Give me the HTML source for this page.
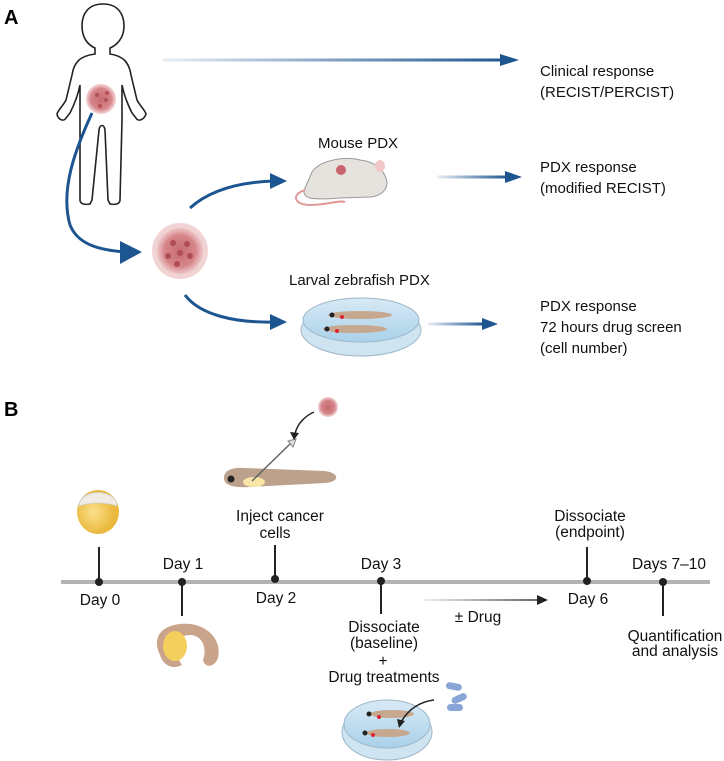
<!DOCTYPE html>
<html><head><meta charset="utf-8"><style>
html,body{margin:0;padding:0;background:#fff;overflow:hidden}
svg{display:block}
.a{font-family:"Liberation Sans",sans-serif;font-size:15px;fill:#111}
.b{font-family:"Liberation Sans",sans-serif;font-size:15.5px;fill:#111}
</style></head><body>
<svg width="724" height="761" viewBox="0 0 724 761" xmlns="http://www.w3.org/2000/svg">
<defs>
<linearGradient id="g1" gradientUnits="userSpaceOnUse" x1="163" y1="0" x2="505" y2="0"><stop offset="0" stop-color="#1d5591" stop-opacity="0.1"/><stop offset="1" stop-color="#1d5591"/></linearGradient>
<linearGradient id="g2" gradientUnits="userSpaceOnUse" x1="437" y1="0" x2="508" y2="0"><stop offset="0" stop-color="#1d5591" stop-opacity="0.1"/><stop offset="1" stop-color="#1d5591"/></linearGradient>
<linearGradient id="g3" gradientUnits="userSpaceOnUse" x1="428" y1="0" x2="484" y2="0"><stop offset="0" stop-color="#1d5591" stop-opacity="0.1"/><stop offset="1" stop-color="#1d5591"/></linearGradient>
<linearGradient id="g4" gradientUnits="userSpaceOnUse" x1="423" y1="0" x2="540" y2="0"><stop offset="0" stop-color="#333" stop-opacity="0.1"/><stop offset="1" stop-color="#333"/></linearGradient>
<radialGradient id="tum"><stop offset="0" stop-color="#c56a70"/><stop offset="0.7" stop-color="#d7868a"/><stop offset="1" stop-color="#e9b8ba" stop-opacity="0.6"/></radialGradient>
<radialGradient id="egg" cx="0.4" cy="0.5"><stop offset="0" stop-color="#fbe08a"/><stop offset="1" stop-color="#e9b83c"/></radialGradient>
<linearGradient id="dish" x1="0" y1="0" x2="0" y2="1"><stop offset="0" stop-color="#d8eaf5"/><stop offset="1" stop-color="#a9d1ea"/></linearGradient>
</defs>
<text x="4" y="24" style="font-family:'Liberation Sans',sans-serif;font-weight:bold;font-size:20px">A</text>
<text x="4" y="416" style="font-family:'Liberation Sans',sans-serif;font-weight:bold;font-size:20px">B</text>

<!-- child -->
<g fill="none" stroke="#222" stroke-width="1.6">
<path d="M103 4 C88 4 82 14 82 26 C82 38 88 45 95 48 L95 54 C80 56 74 62 72 75 L66 100 C63 106 58 110 57 114 C58 120 64 122 66 118 L70 113 C74 105 78 95 80 85 L80 120 L80 200 C80 204 85 205 90 204 L92 200 L99 130 C100 124 104 124 105 130 L108 200 L110 204 C115 205 120 204 120 200 L122 120 L122 85 C124 95 128 105 132 113 L136 118 C138 122 144 120 146 114 C145 110 140 106 137 100 L131 75 C129 62 123 56 110 54 L110 48 C117 45 124 38 124 26 C124 14 118 4 103 4 Z"/>
</g>
<circle cx="101" cy="99" r="15" fill="url(#tum)"/>
<g fill="#b14f57"><circle cx="97" cy="95" r="2"/><circle cx="106" cy="100" r="2"/><circle cx="100" cy="106" r="2"/><circle cx="107" cy="93" r="2"/></g>

<!-- top arrow -->
<path d="M163 60 L505 60" stroke="url(#g1)" stroke-width="3"/>
<polygon points="500,54 519,60 500,66" fill="#1d5591"/>
<text class="a" x="540" y="76">Clinical response</text>
<text class="a" x="540" y="97">(RECIST/PERCIST)</text>

<!-- curve to tumor -->
<path d="M92 113 C75 150 60 190 70 225 C78 245 100 250 125 252" fill="none" stroke="#1d5591" stroke-width="3"/>
<polygon points="120,241 142,252 120,264" fill="#1d5591"/>
<circle cx="180" cy="251" r="28" fill="#ebc0c2" opacity="0.7"/>
<circle cx="180" cy="251" r="23" fill="url(#tum)"/>
<g fill="#b04c55"><circle cx="173" cy="243" r="3"/><circle cx="187" cy="244" r="3"/><circle cx="180" cy="253" r="3"/><circle cx="190" cy="256" r="3"/><circle cx="168" cy="256" r="3"/><circle cx="177" cy="264" r="3"/></g>

<!-- upper branch -->
<path d="M190 208 C210 190 240 182 275 181" fill="none" stroke="#1d5591" stroke-width="3"/>
<polygon points="270,173 287,181 270,189" fill="#1d5591"/>
<text class="a" x="318" y="148">Mouse PDX</text>
<path d="M305 188 C300 200 315 200 340 198 L370 197 C380 196 390 190 386 178 C382 168 375 162 360 160 C345 156 320 160 312 172 Z" fill="#e6e3df" stroke="#999" stroke-width="1"/>
<circle cx="341" cy="170" r="5" fill="#c9636d"/>
<path d="M305 190 C290 195 295 205 310 205 C325 205 340 200 345 202" fill="none" stroke="#e09a9a" stroke-width="2"/>
<ellipse cx="380" cy="166" rx="5" ry="6" fill="#f0c8c8"/>
<path d="M437 177 L508 177" stroke="url(#g2)" stroke-width="3"/>
<polygon points="505,171 522,177 505,183" fill="#1d5591"/>
<text class="a" x="540" y="172">PDX response</text>
<text class="a" x="540" y="193">(modified RECIST)</text>

<!-- lower branch -->
<path d="M185 295 C200 315 235 323 275 322" fill="none" stroke="#1d5591" stroke-width="3"/>
<polygon points="270,314 287,322 270,330" fill="#1d5591"/>
<text class="a" x="289" y="285">Larval zebrafish PDX</text>
<ellipse cx="361" cy="330" rx="60" ry="26" fill="#cfe4f1" stroke="#9cb7c8"/>
<ellipse cx="361" cy="320" rx="58" ry="22" fill="url(#dish)" stroke="#9cb7c8"/>
<g><ellipse cx="360" cy="315" rx="32" ry="4" fill="#c6a88f"/><circle cx="332" cy="315" r="2.5" fill="#222"/><circle cx="342" cy="317" r="2" fill="#d23"/>
<ellipse cx="355" cy="329" rx="32" ry="4" fill="#c6a88f"/><circle cx="327" cy="329" r="2.5" fill="#222"/><circle cx="337" cy="331" r="2" fill="#d23"/></g>
<path d="M428 324 L484 324" stroke="url(#g3)" stroke-width="3"/>
<polygon points="482,318 498,324 482,330" fill="#1d5591"/>
<text class="a" x="540" y="311">PDX response</text>
<text class="a" x="540" y="332">72 hours drug screen</text>
<text class="a" x="540" y="353">(cell number)</text>

<!-- timeline B -->
<line x1="61" y1="582" x2="710" y2="582" stroke="#b3b3b3" stroke-width="4"/>
<g stroke="#222" stroke-width="2">
<line x1="99" y1="547" x2="99" y2="582"/>
<line x1="182" y1="582" x2="182" y2="616"/>
<line x1="275" y1="545" x2="275" y2="579"/>
<line x1="381" y1="581" x2="381" y2="614"/>
<line x1="587" y1="547" x2="587" y2="581"/>
<line x1="663" y1="582" x2="663" y2="616"/>
</g>
<g fill="#222"><circle cx="99" cy="582" r="4"/><circle cx="182" cy="582" r="4"/><circle cx="275" cy="579" r="4"/><circle cx="381" cy="581" r="4"/><circle cx="587" cy="581" r="4"/><circle cx="663" cy="582" r="4"/></g>
<g text-anchor="middle">
<text x="100" y="605" class="b">Day 0</text>
<text x="183" y="569" class="b">Day 1</text>
<text x="276" y="603" class="b">Day 2</text>
<text x="280" y="521" class="b">Inject cancer</text>
<text x="275" y="538" class="b">cells</text>
<text x="381" y="569" class="b">Day 3</text>
<text x="384" y="632" class="b">Dissociate</text>
<text x="384" y="648" class="b">(baseline)</text>
<text x="383" y="666" class="b">+</text>
<text x="384" y="682" class="b">Drug treatments</text>
<text x="478" y="622" class="b">± Drug</text>
<text x="588" y="604" class="b">Day 6</text>
<text x="590" y="521" class="b">Dissociate</text>
<text x="590" y="537" class="b">(endpoint)</text>
<text x="669" y="569" class="b">Days 7–10</text>
<text x="675" y="641" class="b">Quantification</text>
<text x="675" y="656" class="b">and analysis</text>
</g>
<path d="M423 600 L540 600" stroke="url(#g4)" stroke-width="1.5"/>
<polygon points="537,595 548,600 537,605" fill="#222"/>

<!-- egg -->
<ellipse cx="98" cy="512" rx="21" ry="22" fill="url(#egg)"/>
<path d="M79 506 C80 488 116 488 117 506 C105 502 91 502 79 506Z" fill="#f0ebe5" stroke="#ccc" stroke-width="0.8"/>
<!-- embryo -->
<path d="M160 655 C150 635 165 622 190 624 C208 626 222 640 218 658 C214 668 205 668 203 660 C208 645 200 635 190 635 C175 635 172 650 182 665 C172 670 163 665 160 655Z" fill="#c9a48a"/>
<ellipse cx="175" cy="646" rx="12" ry="15" fill="#f5cf5e"/>
<!-- larva injection -->
<path d="M224 478 C224 470 232 467 245 468 L325 471 C340 473 340 482 325 483 L250 487 C232 488 224 485 224 478Z" fill="#bca28d"/>
<circle cx="231" cy="479" r="3.5" fill="#222"/>
<ellipse cx="254" cy="482" rx="11" ry="5" fill="#f8e6a6"/>
<line x1="252" y1="481" x2="291" y2="443" stroke="#666" stroke-width="1.5"/>
<polygon points="288,441 296,439 293,447" fill="#ddd" stroke="#888"/>
<path d="M314 412 C305 416 297 424 295 434" fill="none" stroke="#222" stroke-width="1.5"/>
<polygon points="290,432 294,440 299,433" fill="#222"/>
<circle cx="328" cy="407" r="10" fill="url(#tum)"/>
<!-- dish B -->
<ellipse cx="387" cy="732" rx="45" ry="28" fill="#cfe4f1" stroke="#9cb7c8"/>
<ellipse cx="387" cy="724" rx="43" ry="24" fill="url(#dish)" stroke="#9cb7c8"/>
<ellipse cx="392" cy="714" rx="22" ry="4" fill="#c6a88f"/><circle cx="369" cy="714" r="2.5" fill="#222"/><circle cx="379" cy="717" r="2" fill="#d23"/>
<ellipse cx="388" cy="733" rx="22" ry="4" fill="#c6a88f"/><circle cx="365" cy="733" r="2.5" fill="#222"/><circle cx="373" cy="735" r="2" fill="#d23"/>
<path d="M434 700 C418 702 408 710 401 722" fill="none" stroke="#222" stroke-width="1.5"/>
<polygon points="397,719 399,728 405,721" fill="#222"/>
<g fill="#8aa6d8"><rect x="446" y="683" width="16" height="7" rx="3.5" transform="rotate(10 454 686)"/><rect x="451" y="695" width="16" height="7" rx="3.5" transform="rotate(-25 459 698)"/><rect x="447" y="704" width="16" height="7" rx="3.5"/></g>
</svg>
</body></html>
